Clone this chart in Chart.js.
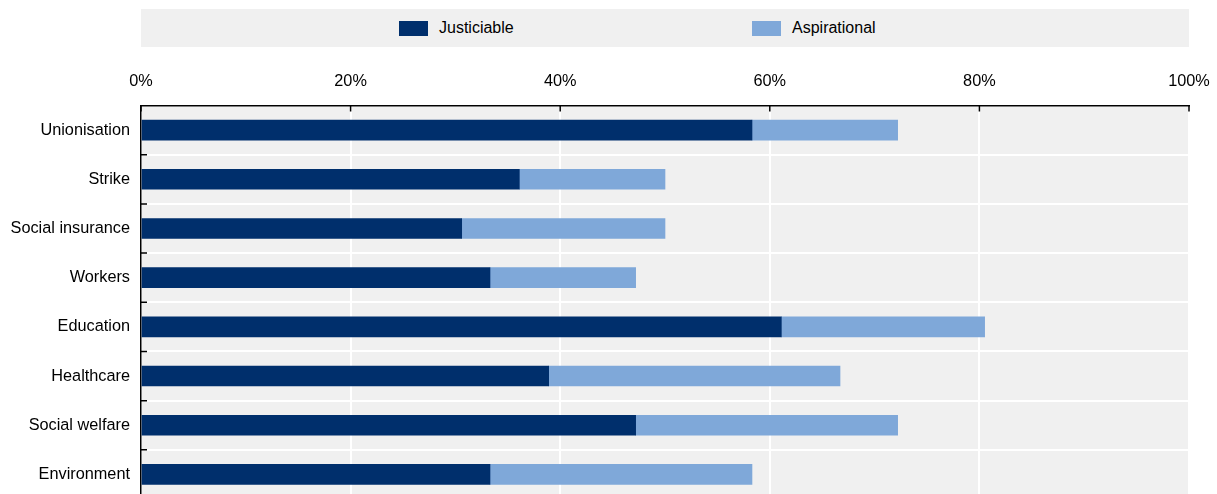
<!DOCTYPE html>
<html>
<head>
<meta charset="utf-8">
<script src="https://cdn.jsdelivr.net/npm/chart.js@4/dist/chart.umd.min.js"></script>
<style>
  html, body { margin: 0; padding: 0; background: #fff; overflow: hidden; }
  #wrap { position: relative; width: 1217px; height: 494px; overflow: hidden; }
  #myChart { position: absolute; left: 0; top: 0; }
  #legend {
    position: absolute; left: 141px; top: 9px; width: 1048px; height: 38px;
    background: #f0f0f0;
    font-family: 'Liberation Sans', Arial, sans-serif;
    font-size: 16px; color: #000;
  }
  .item { position: absolute; top: 0; height: 38px; display: flex; align-items: center; }
  .swatch { width: 29px; height: 15px; margin-right: 11px; }
</style>
</head>
<body>
<div id="wrap">
  <canvas id="myChart" width="1217" height="499"></canvas>
  <div id="legend"></div>
</div>
<script>
const categories = ['Unionisation', 'Strike', 'Social insurance', 'Workers', 'Education', 'Healthcare', 'Social welfare', 'Environment'];
const justiciable = [58.3, 36.1, 30.6, 33.3, 61.1, 38.9, 47.2, 33.3];
const aspirational = [13.9, 13.9, 19.4, 13.9, 19.4, 27.8, 25.0, 25.0];
const xTicks = [0, 20, 40, 60, 80, 100];

const seriesNames = ['Justiciable', 'Aspirational'];
const seriesColors = ['#002f6c', '#7fa8d9'];
const FONT = "'Liberation Sans', Arial, sans-serif";

// legend drawn as html, items placed like the original
const legendEl = document.getElementById('legend');
const legendLeft = [258, 611];
seriesNames.forEach((name, i) => {
  const item = document.createElement('div');
  item.className = 'item';
  item.style.left = legendLeft[i] + 'px';
  item.innerHTML = '<div class="swatch" style="background:' + seriesColors[i] + '"></div><span>' + name + '</span>';
  legendEl.appendChild(item);
});

// grey plot background + ticks pointing into the plot
const plotDecor = {
  id: 'plotDecor',
  beforeDraw(chart) {
    const { ctx, chartArea: a } = chart;
    ctx.save();
    ctx.fillStyle = '#f0f0f0';
    ctx.fillRect(a.left, a.top, a.right - a.left, a.bottom - a.top);
    ctx.restore();
  },
  afterDatasetsDraw(chart) {
    const { ctx, chartArea: a, scales } = chart;
    ctx.save();
    ctx.strokeStyle = '#000';
    ctx.lineWidth = 1.5;
    ctx.beginPath();
    xTicks.forEach(v => {
      const x = scales.x.getPixelForValue(v);
      ctx.moveTo(x, a.top);
      ctx.lineTo(x, a.top + 6);
    });
    for (let i = 1; i <= categories.length; i++) {
      const y = (scales.y.getPixelForValue(i - 1) + scales.y.getPixelForValue(i)) / 2;
      ctx.moveTo(a.left, y);
      ctx.lineTo(a.left + 6, y);
    }
    ctx.stroke();
    ctx.restore();
  }
};

const data = {
  labels: categories,
  datasets: [justiciable, aspirational].map((values, i) => ({
    label: seriesNames[i],
    data: values,
    backgroundColor: seriesColors[i],
    borderWidth: 0,
    barThickness: 20,
  })),
};

const config = {
  type: 'bar',
  data: data,
  options: {
    indexAxis: 'y',
    responsive: false,
    animation: false,
    layout: { padding: { left: 0, right: 28, top: 0, bottom: 0 } },
    plugins: {
      legend: { display: false },
      tooltip: { enabled: false },
    },
    scales: {
      x: {
        position: 'top',
        stacked: true,
        min: 0,
        max: 100,
        afterFit: (scale) => {
          scale.height = 105.5;
          scale.paddingLeft = 0;
          scale.paddingRight = 0;
        },
        afterBuildTicks: (scale) => { scale.ticks = xTicks.map(v => ({ value: v })); },
        ticks: {
          padding: 14,
          color: '#000',
          maxRotation: 0,
          font: { family: FONT, size: 16.3 },
          callback: (v) => v + '%',
        },
        grid: { color: '#fff', lineWidth: 2, drawTicks: false },
        border: { display: true, color: '#000', width: 1.5 },
      },
      y: {
        stacked: true,
        afterFit: (scale) => {
          scale.width = 141;
          scale.paddingTop = 0;
          scale.paddingBottom = 0;
        },
        ticks: {
          padding: 11,
          color: '#000',
          font: { family: FONT, size: 16.3 },
        },
        grid: { color: '#fff', lineWidth: 2, drawTicks: false },
        border: { display: true, color: '#000', width: 1.5 },
      },
    },
  },
  plugins: [plotDecor],
};

const myChart = new Chart(document.getElementById('myChart'), config);
</script>
</body>
</html>
